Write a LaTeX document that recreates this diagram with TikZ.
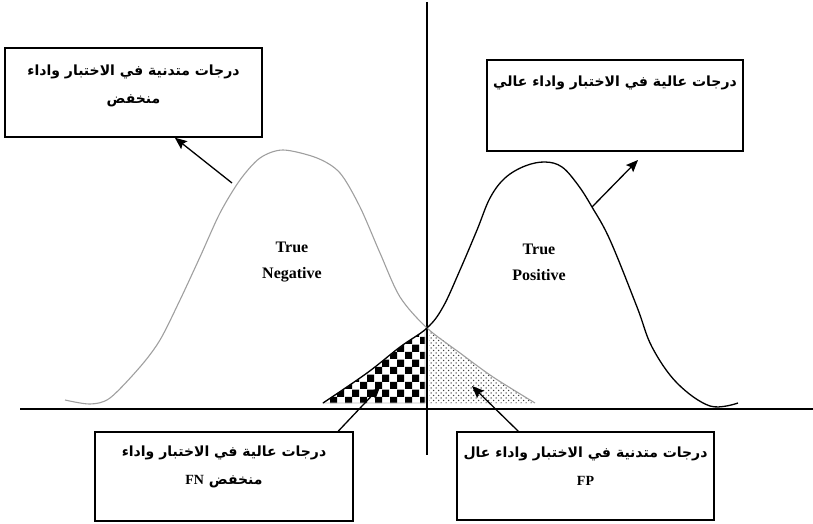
\documentclass[tikz,border=0pt]{standalone}
\usepackage{fontspec}
\setmainfont{Liberation Serif}
\newfontfamily\arabicfont[Script=Arabic]{DejaVu Sans}
\TeXXeTstate=1
\usepackage{tikz}
\usetikzlibrary{arrows.meta, positioning, calc, patterns}
% large checkerboard for the FN area
\pgfdeclarepatternformonly{bigchecks}{\pgfpointorigin}{\pgfqpoint{15pt}{15pt}}{\pgfqpoint{15pt}{15pt}}{%
  \pgfpathrectangle{\pgfpointorigin}{\pgfqpoint{7.5pt}{7.5pt}}%
  \pgfpathrectangle{\pgfqpoint{7.5pt}{7.5pt}}{\pgfqpoint{7.5pt}{7.5pt}}%
  \pgfusepath{fill}}
% staggered dots for the FP area
\pgfdeclarepatternformonly{fpdots}{\pgfqpoint{-1pt}{-1pt}}{\pgfqpoint{6pt}{6pt}}{\pgfqpoint{5pt}{5pt}}{%
  \pgfpathcircle{\pgfqpoint{1pt}{1pt}}{0.75pt}%
  \pgfpathcircle{\pgfqpoint{3.5pt}{3.5pt}}{0.75pt}%
  \pgfusepath{fill}}
\newcommand{\latin}[1]{{\rmfamily\fontsize{14}{28}\selectfont #1}}
\tikzset{
  box/.style={rectangle, draw, line width=1.4pt, inner sep=0pt},
  artext/.style={font=\arabicfont\bfseries\fontsize{14}{28}\selectfont, align=center, inner sep=0pt},
  truetext/.style={font=\bfseries\fontsize{16}{26}\selectfont, align=center},
  negcurve/.style={gray!75, line width=1.1pt},
  poscurve/.style={black, line width=1.3pt},
  arrow/.style={-{Stealth[length=12pt,width=10pt,inset=2pt]}, line width=1.3pt},
  axisline/.style={line width=1.4pt}
}

\begin{document}
\begin{tikzpicture}[x=1pt, y=-1pt]
  \useasboundingbox (0,0) rectangle (813,524);

  % shaded areas
  \filldraw[pattern=bigchecks, draw=gray!50, line width=0.6pt]
    plot[smooth] coordinates {(323,403) (367,373) (400,347) (425,330)} -- (425,403) -- cycle;
  \fill[pattern=fpdots, pattern color=black!75]
    plot[smooth] coordinates {(429,329) (460,353) (493,377) (535,403)} -- (429,403) -- cycle;

  % axes
  \draw[axisline] (20,409) -- (813,409);
  \draw[axisline] (427,2) -- (427,455);

  % the two distributions
  \draw[negcurve] plot[smooth] coordinates {(65,400) (90,404) (110,398) (140,367) (160,340)
    (180,300) (200,257) (220,213) (240,180) (260,158) (283,150) (317,158) (340,173) (360,207)
    (380,253) (400,297) (427,328) (460,353) (493,377) (535,403)};
  \draw[poscurve] plot[smooth, tension=0.6] coordinates {(323,403) (367,373) (400,347) (427,328) (443,307)
    (460,270) (477,230) (490,198) (505,178) (525,166) (545,162) (562,167) (578,185) (592,207) (610,240)
    (637,307) (652,347) (677,383) (710,406) (738,403)};

  \node[truetext] (neg) at (292,262) {True\\Negative};
  \node[truetext] (pos) at (539,262) {True\\Positive};

  % boxes
  \node[box, minimum width=257, minimum height=89] (tlbox) at (133.5,92.5) {};
  \node[box, minimum width=256, minimum height=91] (trbox) at (615,105.5) {};
  \node[box, minimum width=258, minimum height=89] (blbox) at (224,476.5) {};
  \node[box, minimum width=257, minimum height=88] (brbox) at (585.5,476) {};

  \node[artext] (tltext) at (133.5,86) {\beginR درجات متدنية في الاختبار واداء\endR\\\beginR منخفض\endR};
  \node[artext] (trtext) at (615,83) {\beginR درجات عالية في الاختبار واداء عالي\endR};
  \node[artext] (bltext) at (224,466.5) {\beginR درجات عالية في الاختبار واداء\endR\\\beginR منخفض \latin{FN}\endR};
  \node[artext] (brtext) at (585.5,466.5) {\beginR درجات متدنية في الاختبار واداء عال\endR\\\latin{FP}};

  % arrows
  \coordinate (tlfrom) at (232,183);
  \coordinate (trfrom) at (592,207);
  \coordinate (trto) at (638,160);
  \coordinate (fnto) at (380,387);
  \coordinate (fpto) at (472,386);
  \draw[arrow] (tlfrom) -- ($(tlbox.south west)!0.66!(tlbox.south east)$);
  \draw[arrow] (trfrom) -- (trto);
  \draw[arrow] ($(blbox.north west)!0.94!(blbox.north east)$) -- (fnto);
  \draw[arrow] ($(brbox.north west)!0.24!(brbox.north east)$) -- (fpto);
\end{tikzpicture}
\end{document}
